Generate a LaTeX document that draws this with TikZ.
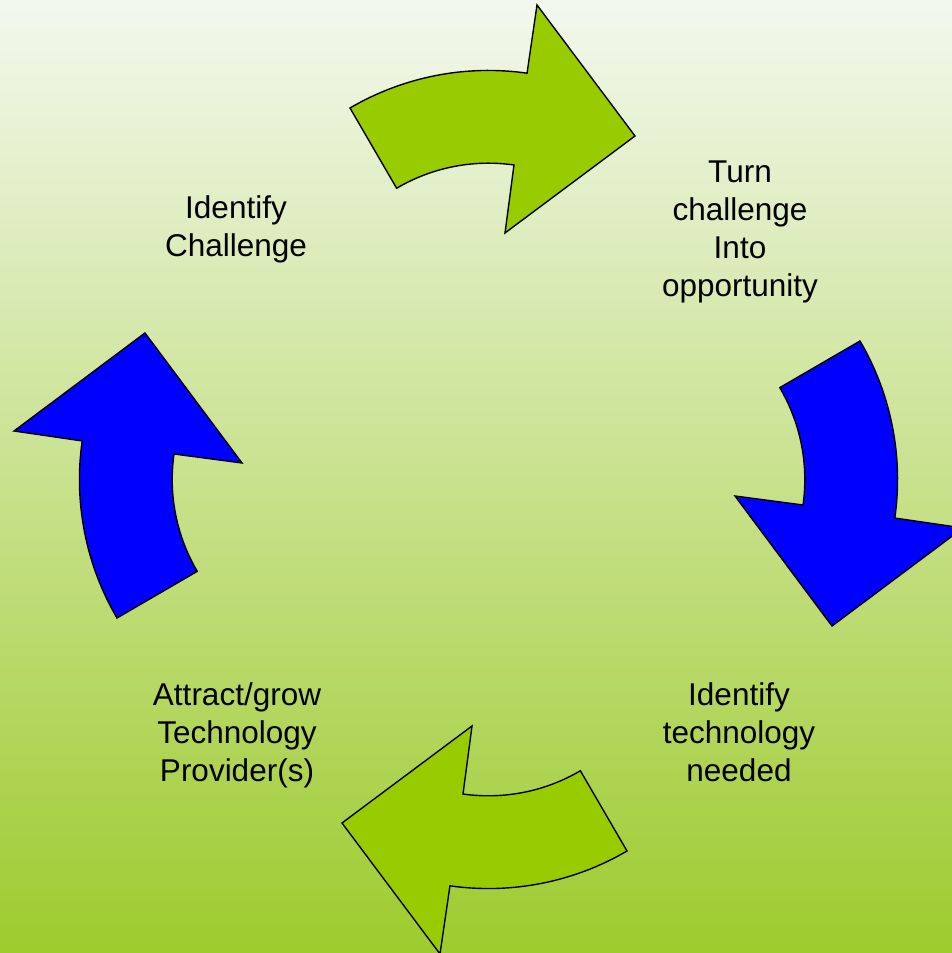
\documentclass[tikz,border=0pt]{standalone}
\usepackage{fontspec}
\setmainfont{Liberation Sans}
\definecolor{bgtop}{RGB}{243,248,238}
\definecolor{bgmid}{RGB}{196,224,154}
\definecolor{bgbot}{RGB}{158,203,46}
\definecolor{argreen}{RGB}{153,204,0}
\definecolor{arblue}{RGB}{0,0,255}
\tikzset{
  greenarrow/.style={fill=argreen, draw=black, line width=1.4pt, line join=miter},
  bluearrow/.style={fill=arblue, draw=black, line width=1.4pt, line join=miter},
  label/.style={align=center, inner sep=0pt, anchor=base, font=\fontsize{31.5}{38}\selectfont}
}
\newcommand{\cyclearrow}[1]{%
  \path[#1] (-138.5,371.5) arc[start angle=120.35, end angle=81.9, radius=274]
    -- (48.5,474.5) -- (146.5,343.5) -- (16.5,246.5) -- (25.5,314.5)
    arc[start angle=81.9, end angle=120.5, radius=181] -- cycle;}
\begin{document}
\begin{tikzpicture}[x=1pt,y=1pt]
\useasboundingbox (0,0) rectangle (952,953);
\shade[top color=bgtop, middle color=bgmid, bottom color=bgbot] (0,0) rectangle (952,953);
\begin{scope}
\clip (0,0) rectangle (952,953);
\begin{scope}[shift={(488.5,473.5)}]
  \cyclearrow{greenarrow}
\end{scope}
\begin{scope}[shift={(488.5,473.5)}, rotate=-90]
  \cyclearrow{bluearrow}
\end{scope}
\begin{scope}[shift={(488.5,473.5)}, rotate=180]
  \cyclearrow{greenarrow}
\end{scope}
\begin{scope}[shift={(488.5,473.5)}, rotate=90]
  \cyclearrow{bluearrow}
\end{scope}
\end{scope}
\node[label] (idch) at (236,696) {Identify\\Challenge};
\node[label] (turn) at (740,656) {Turn\\challenge\\Into\\opportunity};
\node[label] (attr) at (237,171) {Attract/grow\\Technology\\Provider(s)};
\node[label] (idtn) at (739,171) {Identify\\technology\\needed};
\end{tikzpicture}
\end{document}
